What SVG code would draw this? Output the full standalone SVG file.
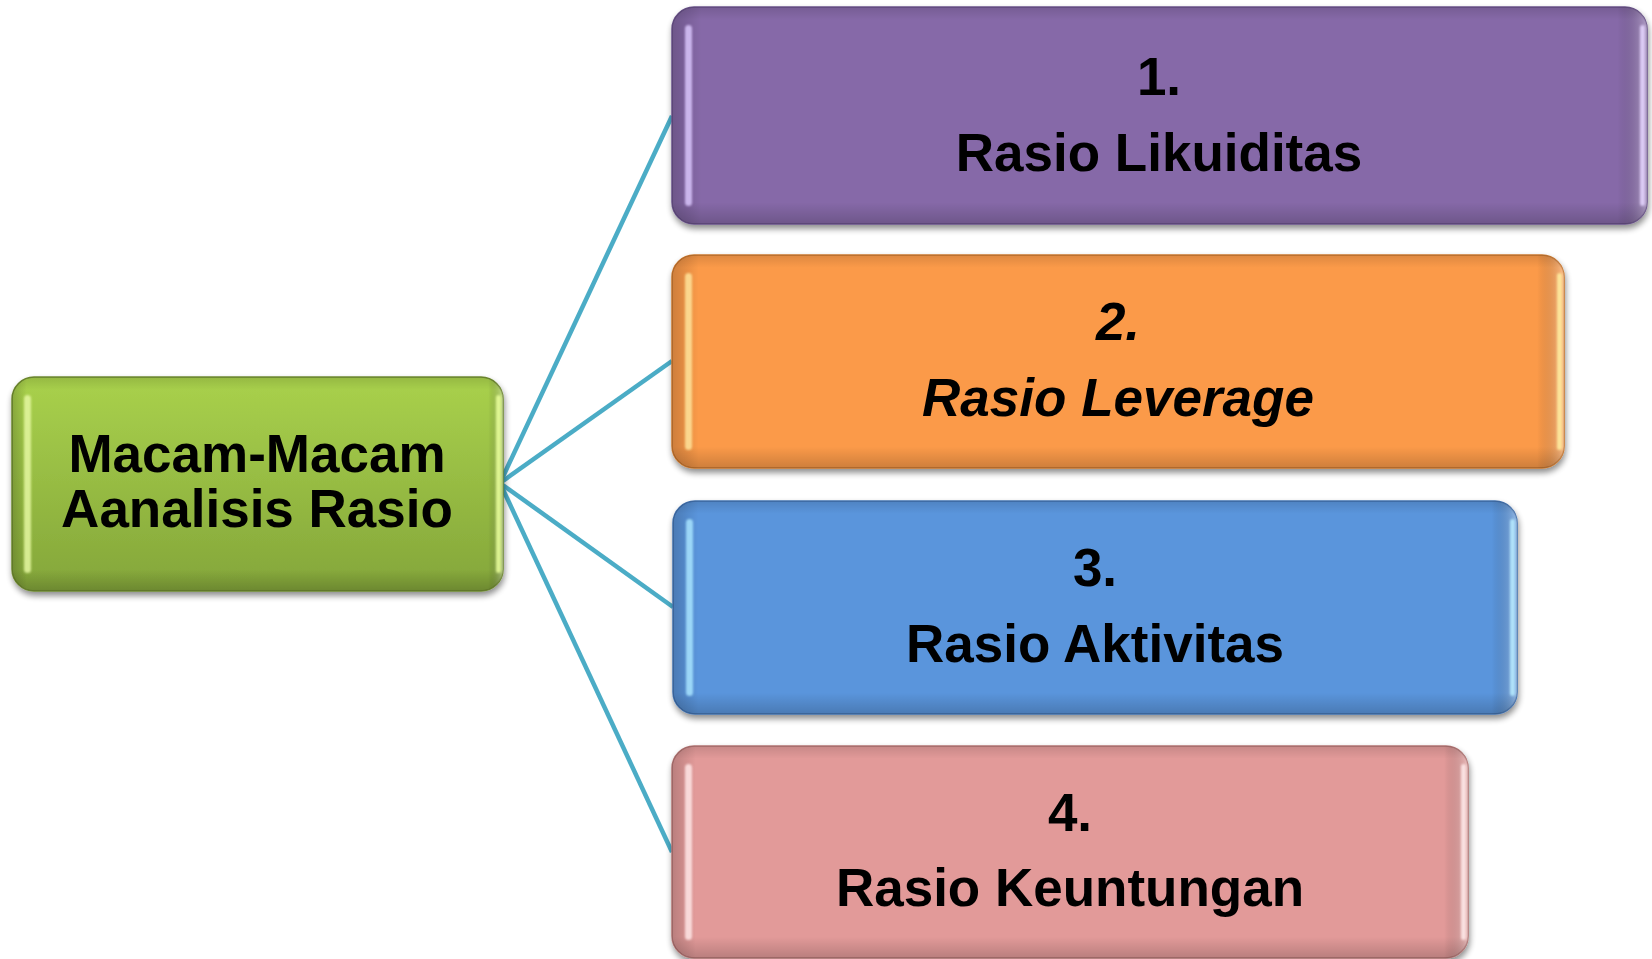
<svg xmlns="http://www.w3.org/2000/svg" width="1652" height="959" viewBox="0 0 1652 959">
<defs>
<filter id="sh" x="-5%" y="-5%" width="110%" height="115%">
<feGaussianBlur in="SourceAlpha" stdDeviation="3"/>
<feOffset dx="1" dy="4" result="b"/>
<feComponentTransfer><feFuncA type="linear" slope="0.45"/></feComponentTransfer>
<feMerge><feMergeNode/><feMergeNode in="SourceGraphic"/></feMerge>
</filter>
<filter id="soft" x="-100%" y="-10%" width="300%" height="120%">
<feGaussianBlur stdDeviation="0.8"/>
</filter>
<linearGradient id="gGreen" x1="0" y1="0" x2="0" y2="1">
<stop offset="0" stop-color="#A9D14C"/><stop offset="1" stop-color="#84A63A"/>
</linearGradient>
<linearGradient id="edgeV" x1="0" y1="0" x2="1" y2="0">
<stop offset="0" stop-color="#000" stop-opacity="0.18"/>
<stop offset="0.03" stop-color="#000" stop-opacity="0"/>
<stop offset="0.97" stop-color="#000" stop-opacity="0"/>
<stop offset="1" stop-color="#fff" stop-opacity="0.35"/>
</linearGradient>
<linearGradient id="edgeH" x1="0" y1="0" x2="0" y2="1">
<stop offset="0" stop-color="#000" stop-opacity="0.12"/>
<stop offset="0.06" stop-color="#000" stop-opacity="0"/>
<stop offset="0.9" stop-color="#000" stop-opacity="0"/>
<stop offset="1" stop-color="#000" stop-opacity="0.18"/>
</linearGradient>
</defs>
<style>
.lbl{font-family:"Liberation Sans",Arial,sans-serif;font-weight:bold;font-size:53px;fill:#000;text-anchor:middle}
.it{font-style:italic}
.conn{stroke:#4BACC6;stroke-width:4.5;fill:none}
.ov1{fill:url(#edgeV)}
.ov2{fill:url(#edgeH)}
.hl{opacity:0.85;filter:url(#soft)}
</style>
<g id="connectors">
<line class="conn" x1="500" y1="483" x2="672" y2="116"/>
<line class="conn" x1="500" y1="483" x2="672" y2="361"/>
<line class="conn" x1="500" y1="483" x2="673" y2="607"/>
<line class="conn" x1="500" y1="483" x2="672" y2="852"/>
</g>
<g id="node-root">
<rect x="12" y="377" width="491" height="214" rx="22" fill="url(#gGreen)" stroke="#6F8A30" stroke-width="1.5" filter="url(#sh)"/>
<rect x="12" y="377" width="491" height="214" rx="22" class="ov1"/>
<rect x="12" y="377" width="491" height="214" rx="22" class="ov2"/>
<rect x="24" y="395" width="7" height="178" rx="3.5" class="hl" fill="#E4F7A0"/>
<rect x="496" y="395" width="5" height="178" rx="2.5" class="hl" fill="#E9FF9A"/>
<text class="lbl" x="257" y="472">Macam-Macam</text>
<text class="lbl" x="257" y="527">Aanalisis Rasio</text>
</g>
<g id="node-1">
<rect x="672" y="7" width="975" height="217" rx="22" fill="#8669A8" stroke="#6A528A" stroke-width="1.5" filter="url(#sh)"/>
<rect x="672" y="7" width="975" height="217" rx="22" class="ov1"/>
<rect x="672" y="7" width="975" height="217" rx="22" class="ov2"/>
<rect x="685" y="25" width="7" height="181" rx="3.5" class="hl" fill="#D8C4FA"/>
<rect x="1640" y="25" width="5" height="181" rx="2.5" class="hl" fill="#E6D6FF"/>
<text class="lbl" x="1159" y="95">1.</text>
<text class="lbl" x="1159" y="171">Rasio Likuiditas</text>
</g>
<g id="node-2">
<rect x="672" y="255" width="892" height="213" rx="22" fill="#FB9A4A" stroke="#C9772F" stroke-width="1.5" filter="url(#sh)"/>
<rect x="672" y="255" width="892" height="213" rx="22" class="ov1"/>
<rect x="672" y="255" width="892" height="213" rx="22" class="ov2"/>
<rect x="685" y="273" width="7" height="177" rx="3.5" class="hl" fill="#FFE39A"/>
<rect x="1557" y="273" width="5" height="177" rx="2.5" class="hl" fill="#FFEFA0"/>
<text class="lbl it" x="1118" y="340">2.</text>
<text class="lbl it" x="1118" y="416">Rasio Leverage</text>
</g>
<g id="node-3">
<rect x="673" y="501" width="844" height="213" rx="22" fill="#5A95DC" stroke="#4271AE" stroke-width="1.5" filter="url(#sh)"/>
<rect x="673" y="501" width="844" height="213" rx="22" class="ov1"/>
<rect x="673" y="501" width="844" height="213" rx="22" class="ov2"/>
<rect x="686" y="519" width="7" height="177" rx="3.5" class="hl" fill="#A8E4FF"/>
<rect x="1510" y="519" width="5" height="177" rx="2.5" class="hl" fill="#B8ECFF"/>
<text class="lbl" x="1095" y="586">3.</text>
<text class="lbl" x="1095" y="662">Rasio Aktivitas</text>
</g>
<g id="node-4">
<rect x="672" y="746" width="796" height="212" rx="22" fill="#E29A99" stroke="#B27473" stroke-width="1.5" filter="url(#sh)"/>
<rect x="672" y="746" width="796" height="212" rx="22" class="ov1"/>
<rect x="672" y="746" width="796" height="212" rx="22" class="ov2"/>
<rect x="685" y="764" width="7" height="176" rx="3.5" class="hl" fill="#FFE6E6"/>
<rect x="1461" y="764" width="5" height="176" rx="2.5" class="hl" fill="#FFEAEA"/>
<text class="lbl" x="1070" y="831">4.</text>
<text class="lbl" x="1070" y="906">Rasio Keuntungan</text>
</g>
</svg>
